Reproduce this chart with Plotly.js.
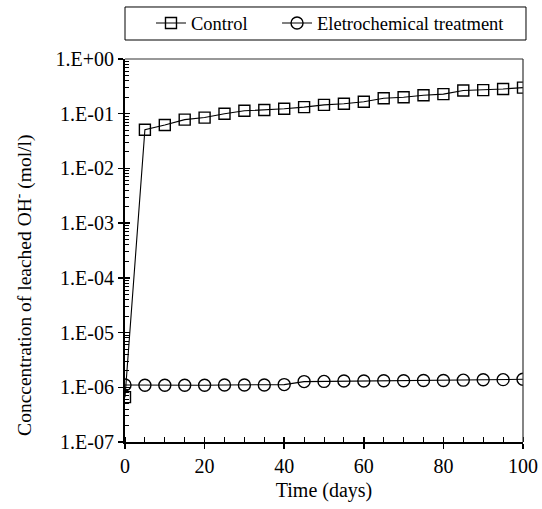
<!DOCTYPE html>
<html>
<head>
<meta charset="utf-8">
<script src="https://cdn.plot.ly/plotly-3.0.1.min.js"></script>
<style>html,body{margin:0;padding:0;background:#fff;}#chart{width:542px;height:509px;}</style>
</head>
<body>
<div id="chart"></div>
<script>
const days = [0,5,10,15,20,25,30,35,40,45,50,55,60,65,70,75,80,85,90,95,100];
const control = [6.6e-7,0.051,0.062,0.078,0.085,0.10,0.113,0.117,0.123,0.132,0.145,0.152,0.165,0.192,0.20,0.218,0.228,0.265,0.27,0.283,0.30];
const electro = [1.1e-6,1.09e-6,1.09e-6,1.09e-6,1.09e-6,1.1e-6,1.1e-6,1.1e-6,1.12e-6,1.27e-6,1.28e-6,1.3e-6,1.3e-6,1.32e-6,1.32e-6,1.33e-6,1.33e-6,1.35e-6,1.37e-6,1.38e-6,1.4e-6];
const yTickVals = [1e-7,1e-6,1e-5,1e-4,1e-3,1e-2,1e-1,1];
const yTickText = ['1.E-07','1.E-06','1.E-05','1.E-04','1.E-03','1.E-02','1.E-01','1.E+00'];
const seriesNames = ['Control','Eletrochemical treatment'];

const minorVals = [];
for (let e = -7; e < 0; e++) for (let k = 2; k <= 9; k++) minorVals.push(k * Math.pow(10, e));

const FONT = '"Liberation Serif", "Times New Roman", Times, serif';
const traces = [
  {x: days, y: control, name: seriesNames[0], mode: 'lines+markers', type: 'scatter', legend: 'legend',
   line: {color: '#000', width: 1.1},
   marker: {symbol: 'square-open', size: 11, color: '#000', line: {width: 1.4}}},
  {x: days, y: electro, name: seriesNames[1], mode: 'lines+markers', type: 'scatter', legend: 'legend2',
   line: {color: '#000', width: 1.1},
   marker: {symbol: 'circle-open', size: 12, color: '#000', line: {width: 1.4}}},
  {x: [], y: [], xaxis: 'x2', yaxis: 'y2', showlegend: false, hoverinfo: 'skip', type: 'scatter'}
];

const legendBase = {orientation: 'h', xanchor: 'left', y: 1.0927, yanchor: 'middle',
  font: {family: FONT, size: 18.5, color: '#000'}, bgcolor: 'rgba(0,0,0,0)', borderwidth: 0};

const layout = {
  width: 542, height: 509,
  margin: {l: 125, r: 19, t: 59, b: 67, autoexpand: false},
  paper_bgcolor: '#fff', plot_bgcolor: '#fff',
  font: {family: FONT, color: '#000', size: 20},
  showlegend: true,
  legend: Object.assign({}, legendBase, {x: 0.0653}),
  legend2: Object.assign({}, legendBase, {x: 0.382}),
  xaxis: {range: [0, 100], showgrid: false, zeroline: false,
          showline: true, linecolor: '#000', linewidth: 2,
          ticks: 'outside', ticklen: 5, tickwidth: 1.5, tickcolor: '#000',
          tickmode: 'linear', tick0: 0, dtick: 20,
          minor: {ticks: 'inside', ticklen: 5, tickwidth: 1, tickcolor: '#000', dtick: 5, tick0: 0, showgrid: false},
          tickfont: {family: FONT, size: 20},
          title: {text: 'Time (days)', font: {family: FONT, size: 20}, standoff: 7}},
  yaxis: {type: 'log', range: [-7, 0], showgrid: false, zeroline: false,
          showline: true, linecolor: '#000', linewidth: 2,
          ticks: 'outside', ticklen: 5, tickwidth: 1.5, tickcolor: '#000',
          tickmode: 'array', tickvals: yTickVals, ticktext: yTickText,
          minor: {ticks: 'inside', ticklen: 4, tickwidth: 1, tickcolor: '#000', tickmode: 'array', tickvals: minorVals, showgrid: false},
          tickfont: {family: FONT, size: 20}},
  xaxis2: {overlaying: 'x', anchor: 'y2', side: 'bottom', range: [0, 100], showgrid: false, zeroline: false,
           showline: false, ticks: 'inside', ticklen: 5, tickwidth: 1.5, tickcolor: '#000',
           tickmode: 'linear', tick0: 0, dtick: 20, showticklabels: false},
  yaxis2: {overlaying: 'y', anchor: 'x2', side: 'left', type: 'log', range: [-7, 0], showgrid: false, zeroline: false,
           showline: false, ticks: 'inside', ticklen: 5, tickwidth: 1.5, tickcolor: '#000',
           tickmode: 'array', tickvals: yTickVals, showticklabels: false},
  shapes: [
    {type: 'line', xref: 'paper', yref: 'paper', x0: 0, x1: 1, y0: 1, y1: 1, line: {color: '#333', width: 1.2}},
    {type: 'line', xref: 'paper', yref: 'paper', x0: 1, x1: 1, y0: 0, y1: 1, line: {color: '#333', width: 1.2}},
    {type: 'rect', xref: 'paper', yref: 'paper', x0: 0, x1: 1.0075, y0: 1.0496, y1: 1.1358, line: {color: '#000', width: 1}, fillcolor: 'rgba(0,0,0,0)'}
  ],
  annotations: [
    {text: 'Conccentration of leached OH<sup>-</sup> (mol/l)', xref: 'paper', yref: 'paper',
     x: -0.254, y: 0.41, xanchor: 'center', yanchor: 'middle', textangle: -90, showarrow: false,
     font: {family: FONT, size: 19.5, color: '#000'}}
  ]
};

Plotly.newPlot('chart', traces, layout, {displayModeBar: false, staticPlot: true});
</script>
</body>
</html>
